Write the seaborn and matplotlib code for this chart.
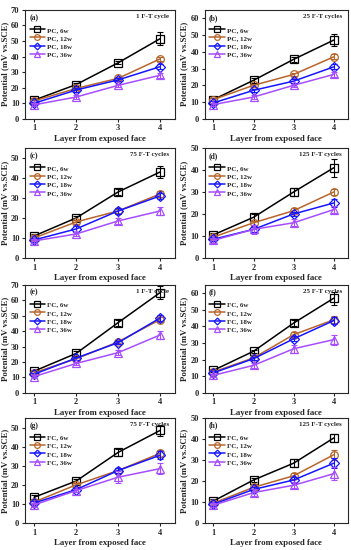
import numpy as np
import pandas as pd
import seaborn as sns
from matplotlib import pyplot as plt

sns.set_style("ticks")
plt.rcParams['font.family'] = ['Liberation Serif', 'DejaVu Serif']
plt.rcParams['font.weight'] = 'bold'

layers = [1, 2, 3, 4]
ages = ["6w", "12w", "18w", "36w"]
colors = ["#000000", "#B8652A", "#1515FF", "#A64DFF"]
markers = ["s", "o", "D", "^"]

# mean potential, one list per age (6w, 12w, 18w, 36w)
pa_vals = [[12, 22, 36, 51.5], [11.5, 19.5, 26, 38.5], [10, 18.5, 25, 33.5], [9, 14, 21.5, 28]]
pa_errs = [[1.5, 1, 1, 4], [1, 1, 1, 1.5], [1, 1, 1, 1.5], [1, 1, 1, 1.5]]
pb_vals = [[11.5, 23, 35.5, 47], [11.5, 20, 26.5, 37], [9.5, 17, 22.5, 31], [8.5, 13, 20, 26.5]]
pb_errs = [[1, 1.5, 1.5, 3.5], [1, 1, 1, 1.5], [1, 1, 1, 1.5], [1, 1, 1, 1.5]]
pc_vals = [[11, 20, 33, 43], [10, 18, 23.5, 32], [9, 14.5, 23.5, 31], [8.5, 12, 18.5, 23.5]]
pc_errs = [[1, 1, 1.5, 3], [1, 1, 1, 1.5], [1, 1.5, 1.5, 1.5], [1, 1, 1.5, 2]]
pd_vals = [[10.5, 18.5, 30, 41], [9.5, 16, 21.5, 30], [8.5, 13, 20, 25], [8, 13, 16, 22]]
pd_errs = [[1, 1.5, 2, 4], [1, 1, 1, 1.5], [1, 1, 1, 2], [1, 2, 1.5, 1.5]]
pe_vals = [[14, 25.5, 45.5, 65], [13, 22, 33, 47.5], [12, 22.5, 32.5, 48.5], [10.5, 19, 26, 37.5]]
pe_errs = [[1, 1.5, 2, 4], [1, 1, 1, 1.5], [1, 1, 1, 2], [1, 1, 1.5, 2.5]]
pf_vals = [[13.5, 25, 42, 57], [12.5, 21, 35, 44], [12, 20.5, 32.5, 43.5], [10.5, 16.5, 26.5, 32]]
pf_errs = [[1, 1, 2, 4], [1, 1, 1.5, 2], [1, 1, 1.5, 2], [1, 1.5, 2.5, 3]]
pg_vals = [[13.5, 22, 37, 48.5], [11, 20, 27.5, 36.5], [10.5, 17.5, 27.5, 35.5], [9.5, 17, 24, 28.5]]
pg_errs = [[1, 1, 2, 3], [1, 1, 1.5, 2], [1, 1, 1.5, 2], [1, 1, 3, 3]]
ph_vals = [[10.5, 20.5, 28.5, 40.5], [9.5, 17, 22.5, 32.5], [9, 16, 20.5, 28.5], [8.5, 14.5, 18, 23.5]]
ph_errs = [[1, 1, 2, 2], [1, 1, 1.5, 2.5], [1, 1, 1.5, 2.5], [1, 1.5, 1.5, 3]]

panels = [
    ("(a)", "1 F-T cycle", "PC", pa_vals, pa_errs, 70),
    ("(b)", "25 F-T cycles", "PC", pb_vals, pb_errs, 65),
    ("(c)", "75 F-T cycles", "PC", pc_vals, pc_errs, 55),
    ("(d)", "125 F-T cycles", "PC", pd_vals, pd_errs, 50),
    ("(e)", "1 F-T cycle", "FC", pe_vals, pe_errs, 70),
    ("(f)", "25 F-T cycles", "FC", pf_vals, pf_errs, 65),
    ("(g)", "75 F-T cycles", "FC", pg_vals, pg_errs, 55),
    ("(h)", "125 F-T cycles", "FC", ph_vals, ph_errs, 50),
]

fig = plt.figure(figsize=(3.51, 5.50), dpi=100)

col_x = [0.071, 0.583]
col_w = [0.427, 0.408]
row_y = [0.784, 0.531, 0.286, 0.049]
row_h = [0.198, 0.200, 0.196, 0.191]

for i, (lab, title, kind, vals, errs, ymax) in enumerate(panels):
    r, c = i // 2, i % 2
    ax = fig.add_axes([col_x[c], row_y[r], col_w[c], row_h[r]])
    for k in range(4):
        df = pd.DataFrame({"layer": layers, "pot": vals[k]})
        sns.lineplot(data=df, x="layer", y="pot", ax=ax, color=colors[k],
                     marker=markers[k], markersize=5.5 if markers[k] != "D" else 4.6,
                     markerfacecolor="none", markeredgecolor=colors[k],
                     markeredgewidth=0.9, linewidth=1.1,
                     label=f"{kind}, {ages[k]}")
        ax.errorbar(layers, vals[k], yerr=errs[k], fmt="none", ecolor=colors[k],
                    elinewidth=0.8, capsize=2.5, capthick=0.8)
    ax.set_xlim(0.78, 4.35)
    ax.set_ylim(0, ymax)
    ax.set_xticks(layers)
    ax.set_yticks(np.arange(0, ymax + 0.1, 10))
    ax.tick_params(direction="out", length=2.5, width=0.8, labelsize=6, pad=1.5)
    for s in ax.spines.values():
        s.set_linewidth(0.8)
        s.set_visible(True)
    ax.set_xlabel("Layer from exposed face", fontsize=6.3, fontweight="bold", labelpad=2)
    ax.set_ylabel("Potential (mV vs.SCE)", fontsize=6.3, fontweight="bold", labelpad=1.5)
    ax.text(0.03, 0.965, lab, transform=ax.transAxes, fontsize=5.5, fontweight="bold",
            va="top", ha="left")
    ax.text(0.96, 0.965, title, transform=ax.transAxes, fontsize=5, fontweight="bold",
            va="top", ha="right")
    ax.legend(loc="upper left", bbox_to_anchor=(0.0, 0.89), frameon=False,
              fontsize=5, handlelength=2.2, handletextpad=0.3, labelspacing=0.35,
              borderaxespad=0.3, markerscale=0.75)

fig.savefig("out.png", dpi=100)
